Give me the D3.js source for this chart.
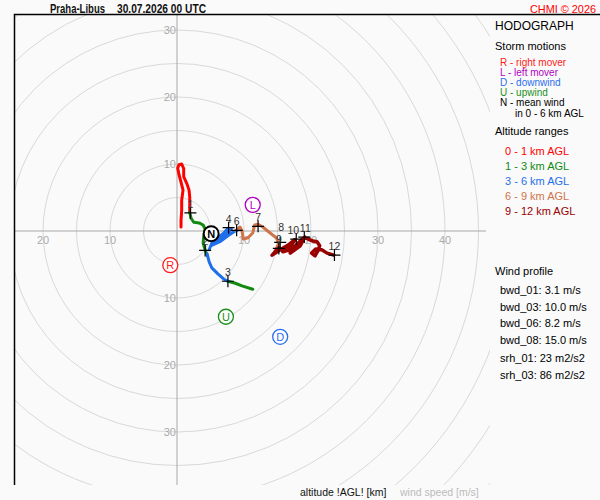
<!DOCTYPE html>
<html>
<head>
<meta charset="utf-8">
<script src="https://cdn.jsdelivr.net/npm/d3@7"></script>
<style>
  body { margin: 0; background: #fafafa; }
  svg { display: block; font-family: "Liberation Sans", Arial, sans-serif; }
</style>
</head>
<body>
<svg id="hodo" width="600" height="500"></svg>
<script>
// hodograph traces, [u, v] in m/s
let layer01 = [[0.6,0.6],[0.6,1.6],[0.7,3.1],[0.7,4.6],[0.9,6.1],[0.6,7.3],[0.3,8.4],[0.1,9.4],[0.3,9.9],[0.7,10.0],
    [1.0,9.3],[1.0,8.1],[1.5,7.0],[1.8,6.1],[1.9,5.1],[1.9,3.9],[1.9,2.8]];
let layer13 = [[1.9,2.8],[2.1,1.9],[2.5,1.3],[3.3,1.2],[3.9,0.9],[4.2,0.3],[4.0,-0.7],[3.9,-1.8],[4.2,-2.8],[4.5,-3.7],
    null,[7.6,-7.5],[8.7,-7.8],[9.7,-8.2],[11.3,-8.7]];
let layer36 = [[4.5,-3.4],[4.8,-4.6],[5.2,-5.5],[6.1,-6.4],[7.0,-7.2],[7.6,-7.5],
    null,[4.8,-2.8],[5.2,-1.8],[6.1,-1.0],[7.0,-0.3],[7.6,0.4],[8.1,0.3],[7.3,-0.6],[6.1,-1.5],[5.1,-2.2],
    [6.4,-1.6],[7.6,-0.7],[8.5,-0.1],[9.0,0.1]];
let layer69 = [[8.8,0.1],[9.4,0.6],[9.7,0.0],[9.9,-1.2],[10.6,-1.0],[11.3,-0.3],[11.6,0.9],[12.1,1.0],[12.8,0.6],
    [13.9,-0.3],[14.8,-1.0],[15.2,-1.8],[14.9,-2.5],[14.6,-3.1]];
let layer912 = [[15.2,-2.5],[14.2,-3.6],[15.4,-2.8],[16.6,-2.1],[17.6,-1.3],[16.9,-2.4],[15.8,-3.1],[17.2,-2.7],[18.4,-1.5],
    [19.1,-0.9],[18.1,-2.1],[16.9,-3.3],[18.4,-2.2],[19.0,-1.0],[19.6,-1.2],[20.3,-1.5],[20.9,-1.6],[21.3,-2.2],[21.0,-3.0],
    [20.6,-3.7],[20.1,-3.3],[20.7,-2.7],[21.6,-2.8],[22.4,-3.3],[23.4,-3.6]];

let layerColors = ['#ff0000', '#108a10', '#1f6fea', '#d0744a', '#990000'];
let layerLabels = ['0 - 1 km AGL', '1 - 3 km AGL', '3 - 6 km AGL', '6 - 9 km AGL', '9 - 12 km AGL'];

// altitude markers
let markerKm = [1, 2, 3, 4, 6, 7, 8, 9, 10, 11, 12];
let markerU = [2.0, 4.2, 7.6, 7.7, 8.9, 12.1, 15.4, 15.2, 17.8, 19.0, 23.5];
let markerV = [2.7, -2.9, -7.5, 0.5, 0.1, 0.7, -1.7, -2.6, -1.2, -0.9, -3.6];

// storm motions
let stormNames = ['R', 'L', 'D', 'U', 'N'];
let stormU = [-1.0, 11.3, 15.4, 7.3, 5.1];
let stormV = [-5.1, 3.9, -15.8, -12.8, -0.4];
let stormColors = ['#ff1a1a', '#b000c0', '#2a6ef0', '#1a901a', '#000000'];
let stormLegend = ['R - right mover', 'L - left mover', 'D - downwind', 'U - upwind', 'N - mean wind'];

let ringValues = [5, 10, 15, 20, 25, 30, 35, 40, 45, 50, 55, 60];
let xTicks = [-20, -10, 10, 20, 30, 40];
let yTicks = [-30, -20, -10, 10, 20, 30];

let profileLabels = ['bwd_01: 3.1 m/s', 'bwd_03: 10.0 m/s', 'bwd_06: 8.2 m/s', 'bwd_08: 15.0 m/s', 'srh_01: 23 m2/s2', 'srh_03: 86 m2/s2'];

let cx = 177, cy = 231, pxPer10 = 67;
let x = d3.scaleLinear().domain([0, 10]).range([cx, cx + pxPer10]);
let y = d3.scaleLinear().domain([0, 10]).range([cy, cy - pxPer10]);
let r = d3.scaleLinear().domain([0, 10]).range([0, pxPer10]);

let svg = d3.select('#hodo');
svg.append('rect').attr('width', 600).attr('height', 500).attr('fill', '#fafafa');

svg.append('defs').append('clipPath').attr('id', 'plotClip')
    .append('rect').attr('x', 15).attr('y', 15).attr('width', 475).attr('height', 470);

let plot = svg.append('g').attr('clip-path', 'url(#plotClip)');

plot.selectAll('.ring').data(ringValues).enter().append('circle')
    .attr('class', 'ring')
    .attr('cx', x(0)).attr('cy', y(0))
    .attr('r', function (d) { return r(d); })
    .attr('fill', 'none').attr('stroke', '#d9d9d9').attr('stroke-width', 1);

// axes
plot.append('line').attr('x1', 15).attr('x2', 486).attr('y1', y(0)).attr('y2', y(0))
    .attr('stroke', '#a8a8a8');
plot.append('line').attr('x1', x(0)).attr('x2', x(0)).attr('y1', 15).attr('y2', 485)
    .attr('stroke', '#a8a8a8');

plot.selectAll('.xlab').data(xTicks).enter().append('text')
    .attr('class', 'xlab')
    .attr('x', function (d) { return x(d); })
    .attr('y', y(0) + 13)
    .attr('text-anchor', 'middle')
    .attr('font-size', 11).attr('fill', '#aaa')
    .text(function (d) { return Math.abs(d); });

plot.selectAll('.ylab').data(yTicks).enter().append('text')
    .attr('class', 'ylab')
    .attr('x', x(0) - 1)
    .attr('y', function (d) { return y(d) + 4; })
    .attr('text-anchor', 'end')
    .attr('font-size', 11).attr('fill', '#aaa')
    .text(function (d) { return Math.abs(d); });

// traces
let line = d3.line()
    .defined(function (d) { return d !== null; })
    .x(function (d) { return x(d[0]); })
    .y(function (d) { return y(d[1]); });

let layers = [layer01, layer13, layer36, layer69, layer912];
plot.selectAll('.trace').data(layers).enter().append('path')
    .attr('class', 'trace')
    .attr('d', line)
    .attr('fill', 'none')
    .attr('stroke', function (d, i) { return layerColors[i]; })
    .attr('stroke-width', function (d, i) { return i === 4 ? 3.5 : 3; })
    .attr('stroke-linejoin', 'round')
    .attr('stroke-linecap', 'round');

// altitude markers
let marks = plot.selectAll('.mark').data(markerKm).enter().append('g')
    .attr('class', 'mark')
    .attr('transform', function (d, i) {
        return 'translate(' + x(markerU[i]) + ',' + y(markerV[i]) + ')';
    });
marks.append('path').attr('d', 'M-6,0H6M0,-6V6').attr('stroke', '#000').attr('stroke-width', 1.2);
marks.append('text')
    .attr('x', function (d) { return d === 8 ? 1 : (d === 10 ? -3 : (d === 11 ? 1 : 0)); })
    .attr('y', function (d) { return d === 8 ? -11 : -5; })
    .attr('text-anchor', 'middle')
    .attr('font-size', 10.5).attr('fill', '#333')
    .text(function (d) { return d; });

// storm motion symbols
let storms = plot.selectAll('.storm').data(stormNames).enter().append('g')
    .attr('class', 'storm')
    .attr('transform', function (d, i) {
        return 'translate(' + x(stormU[i]) + ',' + y(stormV[i]) + ')';
    });
storms.append('circle').attr('r', 7.5)
    .attr('fill', '#fff')
    .attr('stroke', function (d, i) { return stormColors[i]; })
    .attr('stroke-width', function (d) { return d === 'N' ? 2 : 1.3; });
storms.append('text')
    .attr('y', 4)
    .attr('text-anchor', 'middle')
    .attr('font-size', 11)
    .attr('font-weight', function (d) { return d === 'N' ? 'bold' : 'normal'; })
    .attr('fill', function (d, i) { return stormColors[i]; })
    .text(function (d) { return d; });

// frame
svg.append('path').attr('d', 'M14.5,485V14.5H600').attr('fill', 'none').attr('stroke', '#000').attr('stroke-width', 1.5);

// header
svg.append('text').attr('x', 50).attr('y', 12.5).attr('font-size', 12).attr('font-weight', 'bold')
    .attr('fill', '#111').attr('textLength', 55).attr('lengthAdjust', 'spacingAndGlyphs').text('Praha-Libus');
svg.append('text').attr('x', 117).attr('y', 12.5).attr('font-size', 12).attr('font-weight', 'bold')
    .attr('fill', '#111').attr('textLength', 89).attr('lengthAdjust', 'spacingAndGlyphs').text('30.07.2026 00 UTC');
svg.append('text').attr('x', 530).attr('y', 12.5).attr('font-size', 11.5)
    .attr('fill', '#ff0000').attr('textLength', 66).attr('lengthAdjust', 'spacingAndGlyphs').text('CHMI \u00a9 2026');

// right panel
let panel = svg.append('g').attr('font-size', 11);
panel.append('text').attr('x', 495).attr('y', 30).attr('font-size', 12).text('HODOGRAPH');
panel.append('text').attr('x', 495).attr('y', 50).text('Storm motions');
panel.selectAll('.sleg').data(stormLegend).enter().append('text')
    .attr('class', 'sleg')
    .attr('x', 500)
    .attr('y', function (d, i) { return 65.5 + i * 10.2; })
    .attr('font-size', 10)
    .attr('fill', function (d, i) { return stormColors[i]; })
    .text(function (d) { return d; });
panel.append('text').attr('x', 515).attr('y', 116.5).attr('font-size', 10).text('in 0 - 6 km AGL');

panel.append('text').attr('x', 495).attr('y', 135).text('Altitude ranges');
panel.selectAll('.aleg').data(layerLabels).enter().append('text')
    .attr('class', 'aleg')
    .attr('x', 505)
    .attr('y', function (d, i) { return 155 + i * 15; })
    .attr('fill', function (d, i) { return layerColors[i]; })
    .text(function (d) { return d; });

panel.append('text').attr('x', 495).attr('y', 275).text('Wind profile');
panel.selectAll('.pleg').data(profileLabels).enter().append('text')
    .attr('class', 'pleg')
    .attr('x', 500)
    .attr('y', function (d, i) { return 294 + i * 16.5 + (i > 3 ? 2 : 0); })
    .text(function (d) { return d; });

// bottom captions
svg.append('text').attr('x', 300).attr('y', 496).attr('font-size', 10.5).attr('fill', '#111')
    .text('altitude !AGL! [km]');
svg.append('text').attr('x', 400).attr('y', 496).attr('font-size', 10.5).attr('fill', '#bbb')
    .text('wind speed [m/s]');
</script>
</body>
</html>
